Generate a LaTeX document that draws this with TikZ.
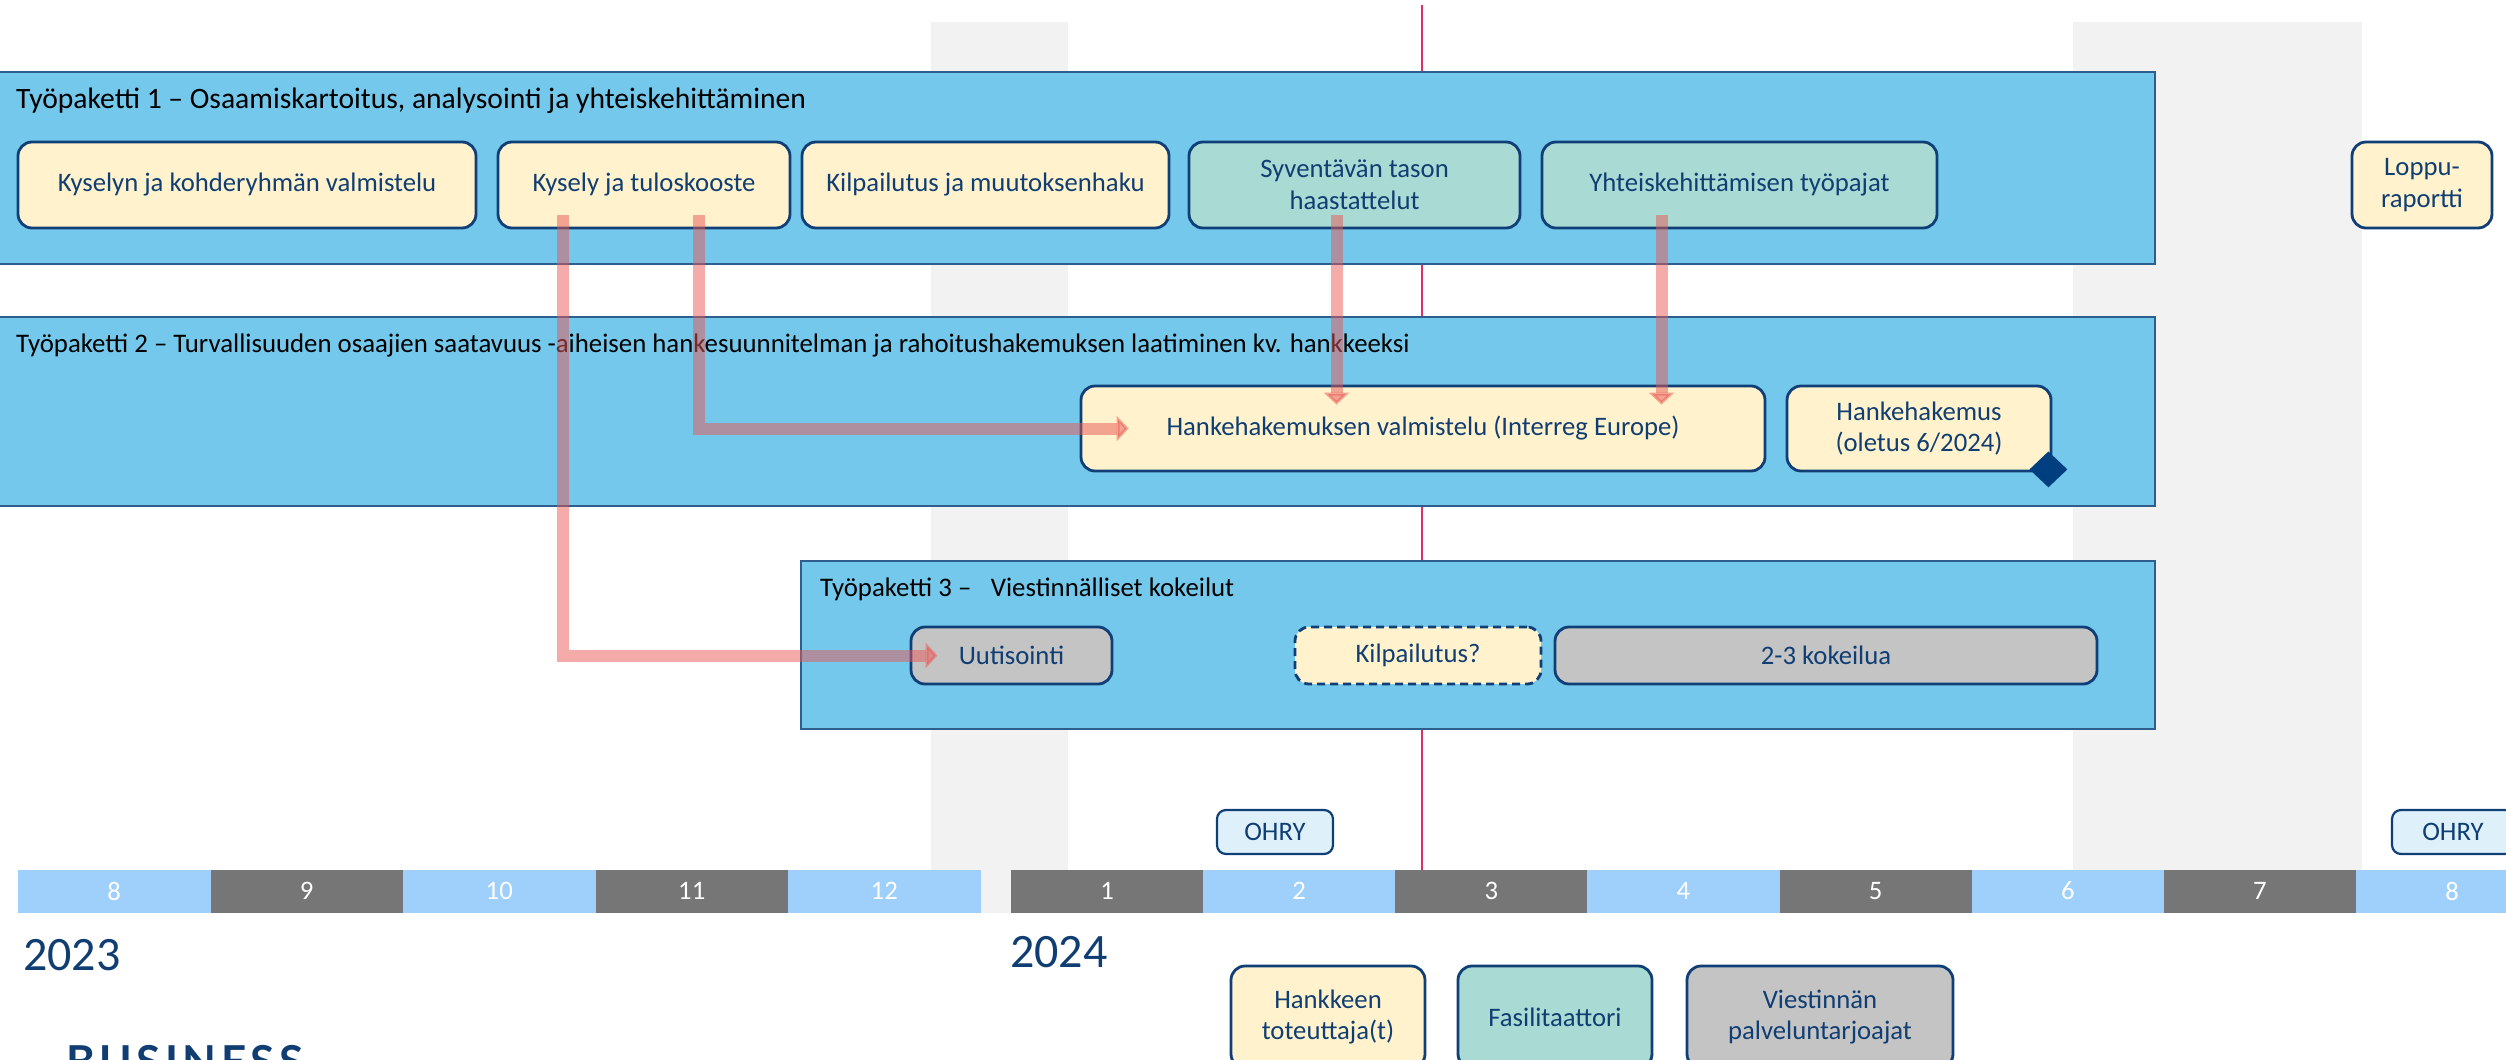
\documentclass[tikz,border=0pt]{standalone}
\usepackage{fontspec}
\setmainfont{Carlito}
\newfontfamily\logofont[LetterSpace=10]{Lato}
\usepackage{xcolor}
\usepackage{tikz}
\usetikzlibrary{arrows.meta,shapes.geometric,positioning,calc}

\definecolor{wpblue}{RGB}{115,200,235}
\definecolor{wpline}{RGB}{46,94,142}
\definecolor{boxline}{RGB}{16,62,118}
\definecolor{boxtext}{RGB}{16,62,115}
\definecolor{taskyellow}{RGB}{255,242,204}
\definecolor{taskgreen}{RGB}{169,218,211}
\definecolor{taskgray}{RGB}{196,196,196}
\definecolor{ohryfill}{RGB}{222,241,250}
\definecolor{monthlight}{RGB}{158,208,251}
\definecolor{monthdark}{RGB}{118,118,118}
\definecolor{bandgray}{RGB}{242,242,242}
\definecolor{nowred}{RGB}{226,45,105}
\definecolor{flowred}{RGB}{233,88,85}
\definecolor{msblue}{RGB}{0,63,127}
\newcommand{\wpfont}{\fontsize{29.6}{35}\selectfont}
\newcommand{\wpsmallfont}{\fontsize{26.8}{32}\selectfont}
\newcommand{\taskfont}{\fontsize{26.7}{31.5}\selectfont}
\newcommand{\yearfont}{\fontsize{48}{56}\selectfont}

\begin{document}
\begin{tikzpicture}[x=1pt, y=-1pt,
                    wp/.style={draw=wpline, line width=1.5pt, fill=wpblue},
                    wptitle/.style={anchor=base west, inner sep=0pt, font=\wpfont},
                    task/.style={draw=boxline, line width=2.8pt, rounded corners=14pt,
                                 fill=taskyellow, text=boxtext, font=\taskfont,
                                 align=center, minimum height=86pt, inner sep=0pt},
                    fasil/.style={task, fill=taskgreen},
                    comms/.style={task, fill=taskgray},
                    tender/.style={task, dash pattern=on 8pt off 5pt},
                    ohry/.style={task, fill=ohryfill, rounded corners=9pt, line width=2.2pt, minimum height=44pt},
                    msdiamond/.style={diamond, fill=msblue, minimum width=38pt, minimum height=36pt, inner sep=0pt},
                    flow/.style={draw=flowred, opacity=0.5, line width=12pt, -{Triangle[length=12pt,width=25pt]}},
                    month/.style={minimum height=43pt, inner sep=0pt, text=white, font=\taskfont},
                    year/.style={anchor=base west, inner sep=0pt, text=boxtext, font=\yearfont},
                   ]

\useasboundingbox (0,0) rectangle (2506,1060);

% background bands and today line
\fill[bandgray] (931,22) rectangle (1068,913);
\fill[bandgray] (2073,22) rectangle (2362,870);
\draw[nowred, line width=2.5pt] (1422,5) -- (1422,870);

% work packages
\draw[wp] (-10,72) rectangle (2155,264);
\draw[wp] (-10,317) rectangle (2155,506);
\draw[wp] (801,561) rectangle (2155,729);

\node[wptitle] (wp1) at (16,108) {Työpaketti 1 – Osaamiskartoitus, analysointi ja yhteiskehittäminen};
\node[wptitle, font=\wpsmallfont] (wp2) at (16,352) {Työpaketti 2 – Turvallisuuden osaajien saatavuus -aiheisen hankesuunnitelman ja rahoitushakemuksen laatiminen kv. hankkeeksi};
\node[wptitle, font=\wpsmallfont] (wp3) at (820,596) {Työpaketti 3 –\hspace{0.5em} Viestinnälliset kokeilut};

% tasks
\node[task, minimum width=458pt] (kysval) at (247,185) {Kyselyn ja kohderyhmän valmistelu};
\node[task, minimum width=292pt] (kysely) at (644,185) {Kysely ja tuloskooste};
\node[task, minimum width=367pt] (kilp) at (985.5,185) {Kilpailutus ja muutoksenhaku};
\node[fasil, minimum width=331pt] (syv) at (1354.5,185) {Syventävän tason\\haastattelut};
\node[fasil, minimum width=395pt] (yht) at (1739.5,185) {Yhteiskehittämisen työpajat};
\node[task, minimum width=140pt] (loppu) at (2422,185) {Loppu-\\raportti};

\node[task, minimum width=684pt, minimum height=85pt] (hvalm) at (1423,428.5) {Hankehakemuksen valmistelu (Interreg Europe)};
\node[task, minimum width=264pt, minimum height=85pt] (hhak) at (1919,428.5) {Hankehakemus\\(oletus 6/2024)};
\node[msdiamond] (ms) at ([xshift=-4pt,yshift=3pt]hhak.south east) {};

\node[comms, minimum width=201pt, minimum height=57pt] (uutis) at (1011.5,655.5) {Uutisointi};
\node[tender, minimum width=246pt, minimum height=57pt] (kilp3) at (1418,655.5) {Kilpailutus?};
\node[comms, minimum width=542pt, minimum height=57pt] (kokeilu) at (1826,655.5) {2-3 kokeilua};

% flows
\coordinate (k1) at ([xshift=-81pt,yshift=14pt]kysely.south);
\coordinate (k2) at ([xshift=55pt,yshift=14pt]kysely.south);
\coordinate (s1) at ([xshift=-18pt,yshift=14pt]syv.south);
\coordinate (y1) at ([xshift=-78pt,yshift=14pt]yht.south);

\draw[flow] (k1) |- ([xshift=28pt]uutis.west);
\draw[flow] (k2) |- ([xshift=49pt]hvalm.west);
\draw[flow] (s1) -- ($(s1 |- hvalm.north)+(0,20)$);
\draw[flow] (y1) -- ($(y1 |- hvalm.north)+(0,20)$);

% steering group meetings
\node[ohry, minimum width=116pt] (ohry1) at (1275,832) {OHRY};
\node[ohry, minimum width=122pt] (ohry2) at (2453,832) {OHRY};

% months
\foreach \m [count=\i from 0] in {8,9,10,11,12}{
  \ifodd\m \def\mcol{monthdark}\else\def\mcol{monthlight}\fi
  \node[month, fill=\mcol, minimum width=192.5pt] (m23-\m) at ({114.25+192.5*\i},891) {\m};
}
\foreach \m [count=\i from 0] in {1,...,8}{
  \ifodd\m \def\mcol{monthdark}\else\def\mcol{monthlight}\fi
  \node[month, fill=\mcol, minimum width=192.2pt] (m24-\m) at ({1107.07+192.14*\i},891) {\m};
}

\node[year] (y2023) at (23,970) {2023};
\node[year] (y2024) at (1010,967) {2024};

% roles
\node[task, minimum width=194pt, minimum height=102pt] (leg1) at (1328,1017) {Hankkeen\\toteuttaja(t)};
\node[fasil, minimum width=194pt, minimum height=102pt] (leg2) at (1555,1017) {Fasilitaattori};
\node[comms, minimum width=266pt, minimum height=102pt] (leg3) at (1820,1017) {Viestinnän\\palveluntarjoajat};

\node[anchor=base west, inner sep=0pt, text=boxtext, font={\logofont\bfseries\fontsize{44}{50}\selectfont}] (logo) at (66,1077) {BUSINESS};

\end{tikzpicture}
\end{document}
